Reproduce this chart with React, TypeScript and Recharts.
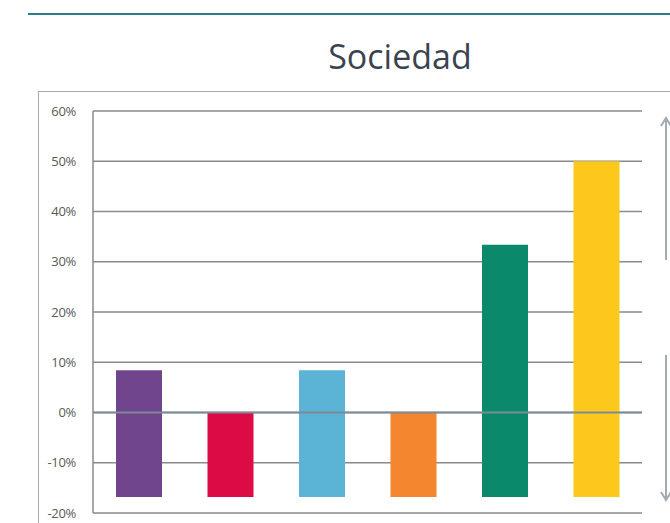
import React from "react";
import { BarChart, Bar, XAxis, YAxis, CartesianGrid, ReferenceLine, Cell } from "recharts";

const categories = ["A", "B", "C", "D", "E", "F"];
const lows = [-16.8, -16.8, -16.8, -16.8, -16.8, -16.8];
const highs = [8.4, 0, 8.4, 0, 33.4, 50];
const colors = ["#71458e", "#dc0a45", "#5bb3d5", "#f3862f", "#0a8a6b", "#fdc81c"];
const yTicks = [-20, -10, 0, 10, 20, 30, 40, 50, 60];

const data = categories.map((c, i) => ({ name: c, range: [lows[i], highs[i]] }));

export default function App() {
  return (
    <div style={{ position: "absolute", left: 0, top: 0, width: 670, height: 523, overflow: "hidden", background: "#fff" }}>
      <div style={{ position: "absolute", left: 28, top: 13, width: 642, height: 2, background: "#2e7c89" }} />
      <div
        style={{
          position: "absolute",
          left: 300,
          width: 200,
          top: 35,
          textAlign: "center",
          fontFamily: "'Open Sans', sans-serif",
          fontSize: 34,
          color: "#3a4450",
          lineHeight: "42px",
        }}
      >
        Sociedad
      </div>
      <div
        style={{
          position: "absolute",
          left: 38,
          top: 91,
          width: 700,
          height: 500,
          border: "1.5px solid #a9a9a9",
        }}
      />
      <div style={{ position: "absolute", left: 0, top: 0 }}>
        <BarChart
          width={670}
          height={523}
          data={data}
          margin={{ top: 111, right: 28, bottom: 10, left: 38 }}
        >
          <CartesianGrid vertical={false} stroke="#8a8a8a" strokeWidth={1.5} />
          <XAxis dataKey="name" hide />
          <YAxis
            width={55}
            domain={[-20, 60]}
            ticks={yTicks}
            interval={0}
            tickFormatter={(v) => `${v}%`}
            tickLine={false}
            tickSize={0}
            tickMargin={17}
            axisLine={{ stroke: "#8a8a8a", strokeWidth: 1.5 }}
            tick={{ fill: "#595959", fontSize: 13, fontFamily: "'Open Sans', sans-serif", letterSpacing: -0.3 }}
          />
          <Bar dataKey="range" barSize={46} isAnimationActive={false}>
            {data.map((d, i) => (
              <Cell key={d.name} fill={colors[i]} />
            ))}
          </Bar>
          <ReferenceLine y={0} stroke="#7c8a95" strokeWidth={2} />
        </BarChart>
      </div>
      <svg style={{ position: "absolute", left: 0, top: 0 }} width={670} height={523}>
        <line x1={666} y1={120} x2={666} y2={260} stroke="#a3abb3" strokeWidth={2} />
        <polyline points="661,126 666,118 671,126" fill="none" stroke="#a3abb3" strokeWidth={2} />
        <line x1={666} y1={355} x2={666} y2={498} stroke="#a3abb3" strokeWidth={2} />
        <polyline points="661,492 666,500 671,492" fill="none" stroke="#a3abb3" strokeWidth={2} />
      </svg>
    </div>
  );
}
